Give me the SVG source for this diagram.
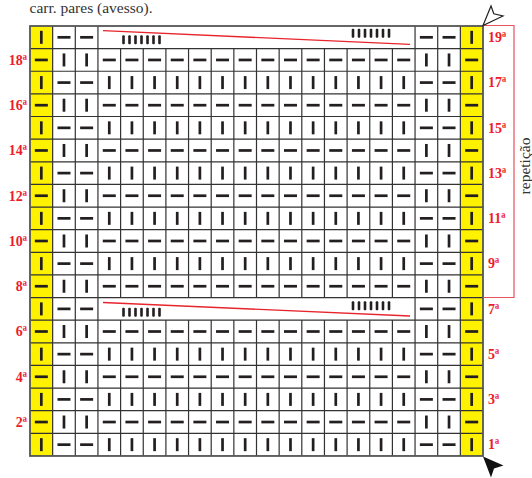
<svg xmlns="http://www.w3.org/2000/svg" xmlns:xlink="http://www.w3.org/1999/xlink" width="532" height="478" viewBox="0 0 532 478">
<style>
.sym{fill:#231f20}
.lbl{font-family:"Liberation Serif","Times New Roman",serif;font-weight:bold;font-size:14px;fill:#ee1c2a}
.grid{stroke:#333;stroke-width:1.2;fill:none}
.red{stroke:#e8242c;stroke-width:1.3;fill:none}
.cap{font-family:"Liberation Serif","Times New Roman",serif;font-size:15.5px;fill:#333}
</style>
<defs>
<rect id="v" class="sym" x="-1.35" y="-6.5" width="2.7" height="13"/>
<rect id="h" class="sym" x="-6.5" y="-1.35" width="13" height="2.7"/>
<g id="ticks" class="sym">
<rect x="0" y="0" width="2.6" height="9" rx="1"/><rect x="6" y="0" width="2.6" height="9" rx="1"/><rect x="12" y="0" width="2.6" height="9" rx="1"/><rect x="18" y="0" width="2.6" height="9" rx="1"/><rect x="24" y="0" width="2.6" height="9" rx="1"/><rect x="30" y="0" width="2.6" height="9" rx="1"/><rect x="36" y="0" width="2.6" height="9" rx="1"/>
</g>
<g id="rowA">
<use href="#v" x="41.33"/><use href="#h" x="63.98"/><use href="#h" x="86.63"/>
<use href="#v" x="109.28"/><use href="#v" x="131.93"/><use href="#v" x="154.58"/><use href="#v" x="177.23"/><use href="#v" x="199.88"/><use href="#v" x="222.53"/><use href="#v" x="245.18"/><use href="#v" x="267.83"/><use href="#v" x="290.48"/><use href="#v" x="313.13"/><use href="#v" x="335.78"/><use href="#v" x="358.43"/><use href="#v" x="381.08"/><use href="#v" x="403.73"/>
<use href="#h" x="426.38"/><use href="#h" x="449.03"/><use href="#v" x="471.68"/>
</g>
<g id="rowB">
<use href="#h" x="41.33"/><use href="#v" x="63.98"/><use href="#v" x="86.63"/>
<use href="#h" x="109.28"/><use href="#h" x="131.93"/><use href="#h" x="154.58"/><use href="#h" x="177.23"/><use href="#h" x="199.88"/><use href="#h" x="222.53"/><use href="#h" x="245.18"/><use href="#h" x="267.83"/><use href="#h" x="290.48"/><use href="#h" x="313.13"/><use href="#h" x="335.78"/><use href="#h" x="358.43"/><use href="#h" x="381.08"/><use href="#h" x="403.73"/>
<use href="#v" x="426.38"/><use href="#v" x="449.03"/><use href="#h" x="471.68"/>
</g>
<g id="rowM">
<use href="#v" x="41.33"/><use href="#h" x="63.98"/><use href="#h" x="86.63"/>
<use href="#h" x="426.38"/><use href="#h" x="449.03"/><use href="#v" x="471.68"/>
</g>
</defs>

<rect width="532" height="478" fill="#fff"/>
<text class="cap" x="29.5" y="13">carr. pares (avesso).</text>

<g id="chart">
<rect x="30" y="26" width="22.65" height="429.97" fill="#fff200"/>
<rect x="460.35" y="26" width="22.65" height="429.97" fill="#fff200"/>
<path class="grid" d="M30 48.63H483M30 71.26H483M30 93.89H483M30 116.52H483M30 139.15H483M30 161.78H483M30 184.41H483M30 207.04H483M30 229.67H483M30 252.3H483M30 274.93H483M30 297.56H483M30 320.19H483M30 342.82H483M30 365.45H483M30 388.08H483M30 410.71H483M30 433.34H483
M52.65 26V455.97M75.3 26V455.97M97.95 26V455.97M415.05 26V455.97M437.7 26V455.97M460.35 26V455.97
M120.6 48.63V297.56M143.25 48.63V297.56M165.9 48.63V297.56M188.55 48.63V297.56M211.2 48.63V297.56M233.85 48.63V297.56M256.5 48.63V297.56M279.15 48.63V297.56M301.8 48.63V297.56M324.45 48.63V297.56M347.1 48.63V297.56M369.75 48.63V297.56M392.4 48.63V297.56
M120.6 320.19V455.97M143.25 320.19V455.97M165.9 320.19V455.97M188.55 320.19V455.97M211.2 320.19V455.97M233.85 320.19V455.97M256.5 320.19V455.97M279.15 320.19V455.97M301.8 320.19V455.97M324.45 320.19V455.97M347.1 320.19V455.97M369.75 320.19V455.97M392.4 320.19V455.97"/>
<rect x="30" y="26" width="453" height="429.97" fill="none" stroke="#555" stroke-width="1.8"/>
</g>

<g id="stitches">
<use href="#rowM" y="37.32"/>
<use href="#rowB" y="59.95"/>
<use href="#rowA" y="82.58"/>
<use href="#rowB" y="105.21"/>
<use href="#rowA" y="127.84"/>
<use href="#rowB" y="150.47"/>
<use href="#rowA" y="173.1"/>
<use href="#rowB" y="195.73"/>
<use href="#rowA" y="218.36"/>
<use href="#rowB" y="240.99"/>
<use href="#rowA" y="263.62"/>
<use href="#rowB" y="286.25"/>
<use href="#rowM" y="308.88"/>
<use href="#rowB" y="331.51"/>
<use href="#rowA" y="354.14"/>
<use href="#rowB" y="376.77"/>
<use href="#rowA" y="399.4"/>
<use href="#rowB" y="422.03"/>
<use href="#rowA" y="444.66"/>
</g>

<g id="decrease-top">
<line class="red" x1="103" y1="30.7" x2="410" y2="44.3"/>
<use href="#ticks" x="122.2" y="35.2"/>
<use href="#ticks" x="351.7" y="28.8"/>
</g>
<g id="decrease-row7">
<line class="red" x1="103" y1="302.5" x2="410" y2="316"/>
<use href="#ticks" x="122.2" y="307.8"/>
<use href="#ticks" x="351.7" y="301.2"/>
</g>

<g id="labels-left" text-anchor="end">
<text class="lbl" x="27" y="64.8">18ª</text>
<text class="lbl" x="27" y="110">16ª</text>
<text class="lbl" x="27" y="155.3">14ª</text>
<text class="lbl" x="27" y="200.5">12ª</text>
<text class="lbl" x="27" y="245.8">10ª</text>
<text class="lbl" x="27" y="291">8ª</text>
<text class="lbl" x="27" y="336.3">6ª</text>
<text class="lbl" x="27" y="381.6">4ª</text>
<text class="lbl" x="27" y="426.8">2ª</text>
</g>
<g id="labels-right">
<text class="lbl" x="488" y="42.1">19ª</text>
<text class="lbl" x="488" y="87.3">17ª</text>
<text class="lbl" x="488" y="132.6">15ª</text>
<text class="lbl" x="488" y="177.9">13ª</text>
<text class="lbl" x="488" y="223.1">11ª</text>
<text class="lbl" x="488" y="268.4">9ª</text>
<text class="lbl" x="488" y="313.7">7ª</text>
<text class="lbl" x="488" y="358.9">5ª</text>
<text class="lbl" x="488" y="404.2">3ª</text>
<text class="lbl" x="488" y="449.4">1ª</text>
</g>

<g id="repeat">
<path d="M483 25.5H514V297.5H483" fill="none" stroke="#e8505f" stroke-width="1.2"/>
<text class="cap" transform="translate(530 166) rotate(-90)" text-anchor="middle">repetição</text>
</g>

<g id="arrows">
<polygon points="483,25.5 491,6 493.8,13.8 503,16" fill="#fff" stroke="#222" stroke-width="1.2" stroke-linejoin="miter"/>
<polygon points="483,456.5 503.5,465.5 494,468.5 491,477.5" fill="#111"/>
</g>
</svg>
